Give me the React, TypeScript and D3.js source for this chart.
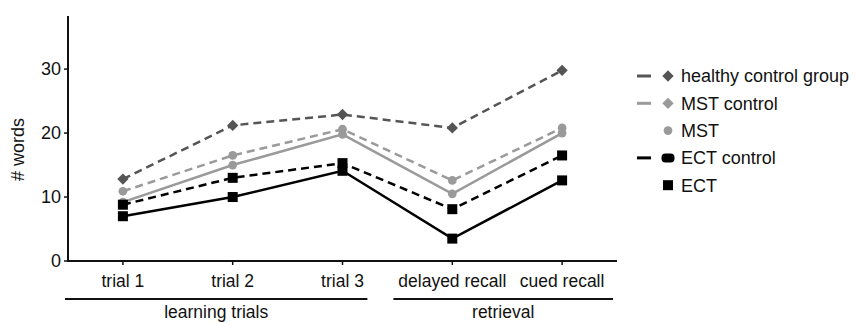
import * as d3 from 'd3'

const categories = ['trial 1', 'trial 2', 'trial 3', 'delayed recall', 'cued recall']
const yTicks = [0, 10, 20, 30]

const healthyControl = [12.8, 21.2, 22.9, 20.8, 29.8]
const mstControl = [10.9, 16.5, 20.6, 12.6, 20.8]
const mst = [9.2, 15.0, 19.8, 10.5, 20.0]
const ectControl = [8.8, 13.0, 15.3, 8.1, 16.5]
const ect = [7.0, 10.0, 14.1, 3.5, 12.6]

const groups = [
  { label: 'learning trials', from: 0, to: 2 },
  { label: 'retrieval', from: 3, to: 4 },
]

const series = [
  { name: 'healthy control group', values: healthyControl, color: '#555555', dash: '8,5', marker: 'diamond', legendMarker: 'diamond', line: true },
  { name: 'MST control', values: mstControl, color: '#9a9a9a', dash: '8,5', marker: 'circle', legendMarker: 'diamond', line: true },
  { name: 'MST', values: mst, color: '#9a9a9a', dash: null, marker: 'circle', legendMarker: 'circle', line: false },
  { name: 'ECT control', values: ectControl, color: '#000000', dash: '8,5', marker: 'square', legendMarker: 'blob', line: true },
  { name: 'ECT', values: ect, color: '#000000', dash: null, marker: 'square', legendMarker: 'square', line: false },
]

const W = 860
const H = 323
const left = 68
const right = 617
const top = 16
const bottom = 261

function Marker({ kind, x, y, color }: { kind: string; x: number; y: number; color: string }) {
  if (kind === 'square') {
    return <rect x={x - 5} y={y - 5} width={10} height={10} fill={color} />
  }
  if (kind === 'blob') {
    return <rect x={x - 6.5} y={y - 4.5} width={13} height={9} rx={4} fill={color} />
  }
  if (kind === 'diamond') {
    return <rect x={-4} y={-4} width={8} height={8} fill={color} transform={`translate(${x},${y}) rotate(45)`} />
  }
  const p = d3.symbol().type(d3.symbolCircle).size(60)()
  return <path d={p || ''} transform={`translate(${x},${y})`} fill={color} />
}

export default function App() {
  const x = d3.scalePoint<string>().domain(categories).range([left, right]).padding(0.5)
  const y = d3.scaleLinear().domain([0, 38.3]).range([bottom, top])

  const line = d3
    .line<number>()
    .x((d, i) => x(categories[i]) as number)
    .y((d) => y(d))

  const font = 'Arial, "Liberation Sans", sans-serif'

  return (
    <svg width={W} height={H} style={{ position: 'absolute', left: 0, top: 0, background: '#fff' }} fontFamily={font}>
      {series.map((s) => (
        <path
          key={s.name + '-line'}
          d={line(s.values) || ''}
          fill="none"
          stroke={s.color}
          strokeWidth={2.5}
          strokeDasharray={s.dash || undefined}
        />
      ))}
      {series.map((s) =>
        s.values.map((v, i) => (
          <Marker key={s.name + i} kind={s.marker} x={x(categories[i]) as number} y={y(v)} color={s.color} />
        )),
      )}

      {/* axes */}
      <line x1={left} x2={left} y1={top} y2={bottom + 1} stroke="#111" strokeWidth={2} />
      <line x1={left - 1} x2={right} y1={bottom} y2={bottom} stroke="#111" strokeWidth={2} />
      {yTicks.map((t) => (
        <g key={t}>
          <line x1={left - 4} x2={left} y1={y(t)} y2={y(t)} stroke="#111" strokeWidth={1.5} />
          <text x={left - 7} y={y(t)} dy="0.35em" textAnchor="end" fontSize={18} fill="#111">
            {t}
          </text>
        </g>
      ))}
      {categories.map((c) => (
        <g key={c}>
          <line x1={x(c)} x2={x(c)} y1={bottom} y2={bottom + 4} stroke="#111" strokeWidth={1.5} />
          <text x={x(c)} y={287} textAnchor="middle" fontSize={17.5} fill="#111">
            {c}
          </text>
        </g>
      ))}
      <text transform={`translate(24,${(top + bottom) / 2 + 11}) rotate(-90)`} textAnchor="middle" fontSize={18} fill="#111">
        # words
      </text>

      {/* group brackets */}
      {groups.map((g, gi) => {
        const step = x.step()
        const x1 = (x(categories[g.from]) as number) - step / 2 + (gi === 0 ? -3 : -4)
        const x2 = (x(categories[g.to]) as number) + step / 2 + (gi === 0 ? -30 : -4)
        return (
          <g key={g.label}>
            <line x1={x1} x2={x2} y1={299} y2={299} stroke="#111" strokeWidth={2} />
            <text x={(x1 + x2) / 2} y={318} textAnchor="middle" fontSize={17.5} fill="#111">
              {g.label}
            </text>
          </g>
        )
      })}

      {/* legend */}
      {series.map((s, i) => {
        const ly = 76 + i * 27.3
        return (
          <g key={s.name + '-legend'}>
            {s.line && <line x1={637} x2={651} y1={ly} y2={ly} stroke={s.color} strokeWidth={3} />}
            <Marker kind={s.legendMarker} x={668} y={ly} color={s.color} />
            <text x={681} y={ly} dy="0.35em" fontSize={18} fill="#111">
              {s.name}
            </text>
          </g>
        )
      })}
    </svg>
  )
}
